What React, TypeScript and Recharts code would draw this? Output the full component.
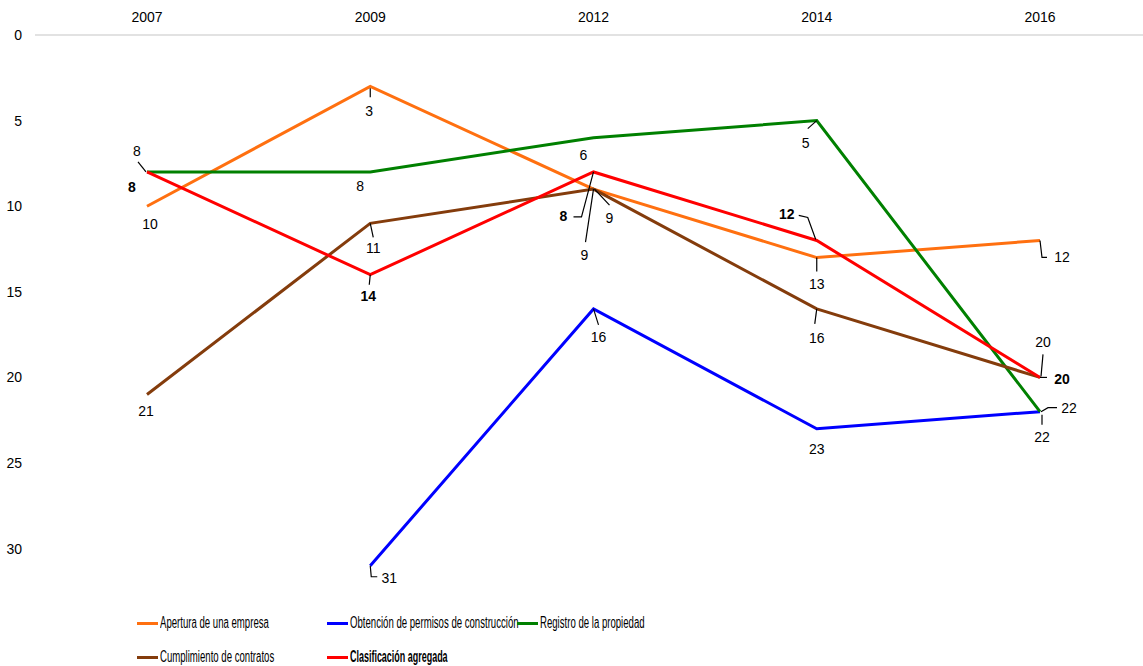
import React from 'react';
import { LineChart, Line, XAxis, YAxis, Legend } from 'recharts';

const YEARS = ['2007', '2009', '2012', '2014', '2016'];
const apertura = [10, 3, 9, 13, 12];
const obtencion: (number | null)[] = [null, 31, 16, 23, 22];
const registro = [8, 8, 6, 5, 22];
const cumplimiento = [21, 11, 9, 16, 20];
const clasificacion = [8, 14, 8, 12, 20];
const Y_TICKS = [0, 5, 10, 15, 20, 25, 30];

const SERIES = [
  { key: 'apertura', name: 'Apertura de una empresa', color: '#FF7010', values: apertura, bold: false },
  { key: 'obtencion', name: 'Obtención de permisos de construcción', color: '#0000FF', values: obtencion, bold: false },
  { key: 'registro', name: 'Registro de la propiedad', color: '#008000', values: registro, bold: false },
  { key: 'cumplimiento', name: 'Cumplimiento  de contratos', color: '#843C0C', values: cumplimiento, bold: false },
  { key: 'clasificacion', name: 'Clasificación agregada', color: '#FF0000', values: clasificacion, bold: true },
];

const data = YEARS.map((year, i) => {
  const row: any = { year };
  SERIES.forEach((s) => (row[s.key] = s.values[i]));
  return row;
});

// label placement (leader path offsets and text centre offset, relative to the point)
type Spec = { path?: number[][]; t: number[] } | null;
const LABEL_LAYOUT: Record<string, Spec[]> = {
  apertura: [
    { t: [3, 18] },
    { path: [[0, 2], [0, 11]], t: [-1, 25] },
    { path: [[1, 0], [16, 16]], t: [16, 29] },
    { path: [[0, 0], [0, 14]], t: [0, 26] },
    { path: [[0, 0], [2, 17], [7, 17]], t: [22, 17] },
  ],
  obtencion: [
    null,
    { path: [[0, 0], [1, 11], [7, 11]], t: [19, 12] },
    { path: [[0, 0], [5, 16]], t: [5, 28] },
    { t: [0, 20] },
    { path: [[2, 3], [2, 13]], t: [2, 25] },
  ],
  registro: [
    { path: [[-1, 0], [-9, -10]], t: [-10, -21] },
    { t: [-10, 14] },
    { t: [-10, 17] },
    { path: [[0, 0], [-9, 8]], t: [-11, 22] },
    { path: [[1, 0], [8, -4], [17, -4]], t: [29, -4] },
  ],
  cumplimiento: [
    { t: [-1, 16] },
    { path: [[0, 0], [3, 14]], t: [3, 25] },
    { path: [[0, 0], [-8, 53]], t: [-9, 66] },
    { path: [[0, 0], [-2, 15]], t: [0, 29] },
    { path: [[3, -23], [1, -1]], t: [3, -35] },
  ],
  clasificacion: [
    { t: [-15, 15] },
    { path: [[0, 0], [-1, 10]], t: [-2, 21] },
    { path: [[0, 0], [-12, 45], [-20, 45]], t: [-30, 44] },
    { path: [[-1, -1], [-9, -23], [-18, -25]], t: [-30, -26] },
    { path: [[0, 0], [7, 0]], t: [22, 2] },
  ],
};

const FONT = '"Liberation Sans", Arial, sans-serif';

const makeLabel = (key: string, bold: boolean) => (props: any) => {
  const { x, y, index, value } = props;
  if (x == null || y == null || value == null) return null;
  const s = LABEL_LAYOUT[key][index];
  if (!s) return null;
  const pts = s.path ? s.path.map(([dx, dy]) => `${x + dx},${y + dy}`).join(' ') : null;
  return (
    <g key={`${key}-${index}`}>
      {pts && <polyline points={pts} fill="none" stroke="#000" strokeWidth={1.2} />}
      <text
        x={x + s.t[0]}
        y={y + s.t[1] + 5}
        textAnchor="middle"
        fontSize={14}
        fontFamily={FONT}
        fontWeight={bold ? 700 : 400}
        fill="#000"
      >
        {value}
      </text>
    </g>
  );
};

const XTick = (props: any) => {
  const { x, payload } = props;
  return (
    <text x={x} y={22} textAnchor="middle" fontSize={14} fontFamily={FONT} fill="#000">
      {payload.value}
    </text>
  );
};

const YTick = (props: any) => {
  const { y, payload } = props;
  return (
    <text x={22} y={y + 5} textAnchor="end" fontSize={14} fontFamily={FONT} fill="#000">
      {payload.value}
    </text>
  );
};

const LegendContent = () => (
  <div style={{ position: 'relative', width: 600, height: 52, fontFamily: FONT, fontSize: 16 }}>
    {SERIES.map((s, i) => (
      <div
        key={s.key}
        style={{
          position: 'absolute',
          left: (i % 3) * 190,
          top: 6 + Math.floor(i / 3) * 34,
          width: 190,
          height: 34,
          display: 'flex',
          alignItems: 'center',
          whiteSpace: 'nowrap',
        }}
      >
        <span style={{ display: 'inline-block', flexShrink: 0, width: 21, height: 3, background: s.color, marginRight: 2 }} />
        <span
          style={{
            display: 'inline-block',
            fontWeight: s.bold ? 700 : 400,
            color: '#000',
            transform: `scaleX(${s.bold ? 0.56 : 0.6})`,
            transformOrigin: 'left center',
          }}
        >
          {s.name}
        </span>
      </div>
    ))}
  </div>
);

export default function App() {
  return (
    <div style={{ position: 'absolute', left: 0, top: 0, width: 1143, height: 666, background: '#fff' }}>
      <LineChart width={1143} height={666} data={data} margin={{ top: 0, right: 0, bottom: 14, left: 0 }}>
        <XAxis
          dataKey="year"
          orientation="top"
          height={35}
          axisLine={{ stroke: '#D9D9D9', strokeWidth: 1.5 }}
          tickLine={false}
          interval={0}
          padding={{ left: 112, right: 103 }}
          tick={<XTick />}
        />
        <YAxis
          reversed
          domain={[0, 33]}
          ticks={Y_TICKS}
          interval={0}
          width={35}
          axisLine={false}
          tickLine={false}
          tick={<YTick />}
        />
        {SERIES.map((s) => (
          <Line
            key={s.key}
            type="linear"
            dataKey={s.key}
            name={s.name}
            stroke={s.color}
            strokeWidth={3}
            dot={false}
            activeDot={false}
            isAnimationActive={false}
            label={makeLabel(s.key, s.bold)}
          />
        ))}
        <Legend
          verticalAlign="bottom"
          align="left"
          content={<LegendContent />}
          wrapperStyle={{ left: 137, width: 600, height: 52 }}
        />
      </LineChart>
    </div>
  );
}
